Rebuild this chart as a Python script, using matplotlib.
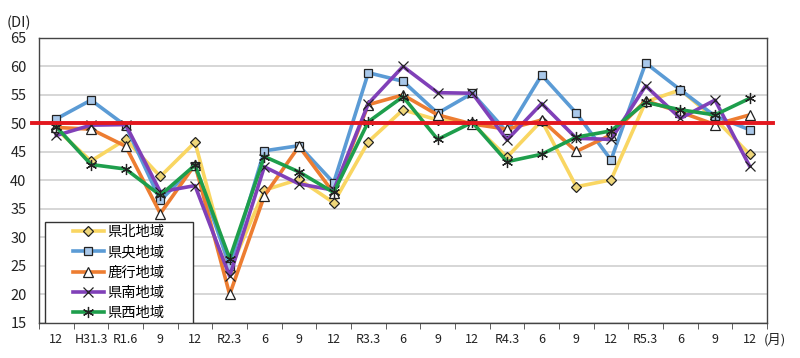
import matplotlib
matplotlib.use("Agg")
import matplotlib.pyplot as plt
from matplotlib.patches import Rectangle
import numpy as np

plt.rcParams['font.family'] = ['Noto Sans CJK JP', 'DejaVu Sans']

categories = ["12", "H31.3", "R1.6", "9", "12", "R2.3", "6", "9", "12", "R3.3", "6",
              "9", "12", "R4.3", "6", "9", "12", "R5.3", "6", "9", "12"]

kenpoku = [49.0, 43.4, 47.2, 40.7, 46.7, 24.2, 38.3, 40.2, 36.1, 46.8, 52.4,
           50.6, 50.0, 44.1, 50.5, 38.9, 40.1, 53.8, 55.9, 50.8, 44.6]
ken_o = [50.8, 54.1, 49.6, 36.5, 42.6, 25.0, 45.2, 46.1, 39.6, 58.9, 57.4,
         51.8, 55.3, 48.5, 58.5, 51.8, 43.6, 60.6, 55.9, 51.3, 48.9]
rokko = [49.3, 49.0, 46.0, 34.2, 42.8, 20.0, 37.3, 46.0, 37.8, 53.3, 55.0,
         51.5, 49.9, 49.0, 50.6, 45.1, 48.0, 54.0, 52.0, 49.8, 51.5]
kennan = [47.9, 49.7, 49.8, 38.0, 39.1, 23.2, 42.4, 39.4, 38.3, 53.5, 60.0,
          55.4, 55.3, 47.1, 53.5, 47.4, 47.2, 56.6, 50.9, 54.1, 42.5]
kensei = [49.4, 42.8, 42.0, 37.4, 42.7, 26.3, 44.2, 41.5, 37.9, 50.3, 54.7,
          47.2, 50.2, 43.3, 44.6, 47.6, 48.7, 53.7, 52.4, 51.5, 54.4]

series_names = ["県北地域", "県央地域", "鹿行地域", "県南地域", "県西地域"]
series_values = [kenpoku, ken_o, rokko, kennan, kensei]
line_colors = ["#F9D662", "#5B9BD5", "#ED7D31", "#8040B8", "#1E9E4C"]
markers = ["D", "s", "^", "x", (6, 2, 0)]
marker_faces = ["#EED67A", "#A9C8EA", "white", "none", "none"]
marker_sizes = [5.5, 6, 6.5, 7, 8]

fig = plt.figure(figsize=(8, 3.58), dpi=100)
ax = fig.add_axes([0.04875, 0.0978, 0.91, 0.7962])

x = np.arange(len(categories))
for name, vals, c, m, fc, ms in zip(series_names, series_values, line_colors,
                                    markers, marker_faces, marker_sizes):
    ax.plot(x, vals, color=c, linewidth=2.6, marker=m, markersize=ms,
            markerfacecolor=fc, markeredgecolor="#222222", markeredgewidth=0.9,
            label=name, zorder=3, solid_joinstyle='round')

# reference line at 50
ax.plot([-0.01, 1.008], [50, 50], color="#E3171E", linewidth=2.8,
        transform=ax.get_yaxis_transform(), clip_on=False, zorder=4)

ax.set_xlim(-0.5, len(categories) - 0.5)
ax.set_ylim(15, 65)
ax.set_yticks(np.arange(15, 66, 5))
ax.yaxis.grid(True, color="#D0D0D0", linewidth=1.2)
ax.set_axisbelow(True)
ax.tick_params(axis='y', length=0, labelsize=10.5, pad=9, colors="#222222")
ax.set_xticks(x)
ax.set_xticklabels(categories, fontsize=9, color="#222222")
ax.set_xticks(np.arange(-0.5, len(categories), 1), minor=True)
ax.tick_params(axis='x', which='major', length=0, pad=7)
ax.tick_params(axis='x', which='minor', length=4, direction='out', color="#444444")

for s in ax.spines.values():
    s.set_color("#444444")
    s.set_linewidth(1.0)

# legend frame drawn separately (wide padding as in reference)
frame = Rectangle((0.0082, 0.0), 0.2033, 0.354, transform=ax.transAxes,
                  facecolor="white", edgecolor="#333333", linewidth=1.0, zorder=5)
ax.add_patch(frame)
leg = ax.legend(loc='upper left', bbox_to_anchor=(0.0465, 0.343), fontsize=10.3,
                frameon=False, handlelength=2.15, labelspacing=0.43, borderpad=0.0,
                handletextpad=0.25, borderaxespad=0.0)
leg.set_zorder(6)

fig.text(0.008, 0.925, "(DI)", fontsize=10.5, color="#222222")
fig.text(0.955, 0.04, "(月)", fontsize=9.5, color="#222222")

fig.savefig("out.png", dpi=100)
